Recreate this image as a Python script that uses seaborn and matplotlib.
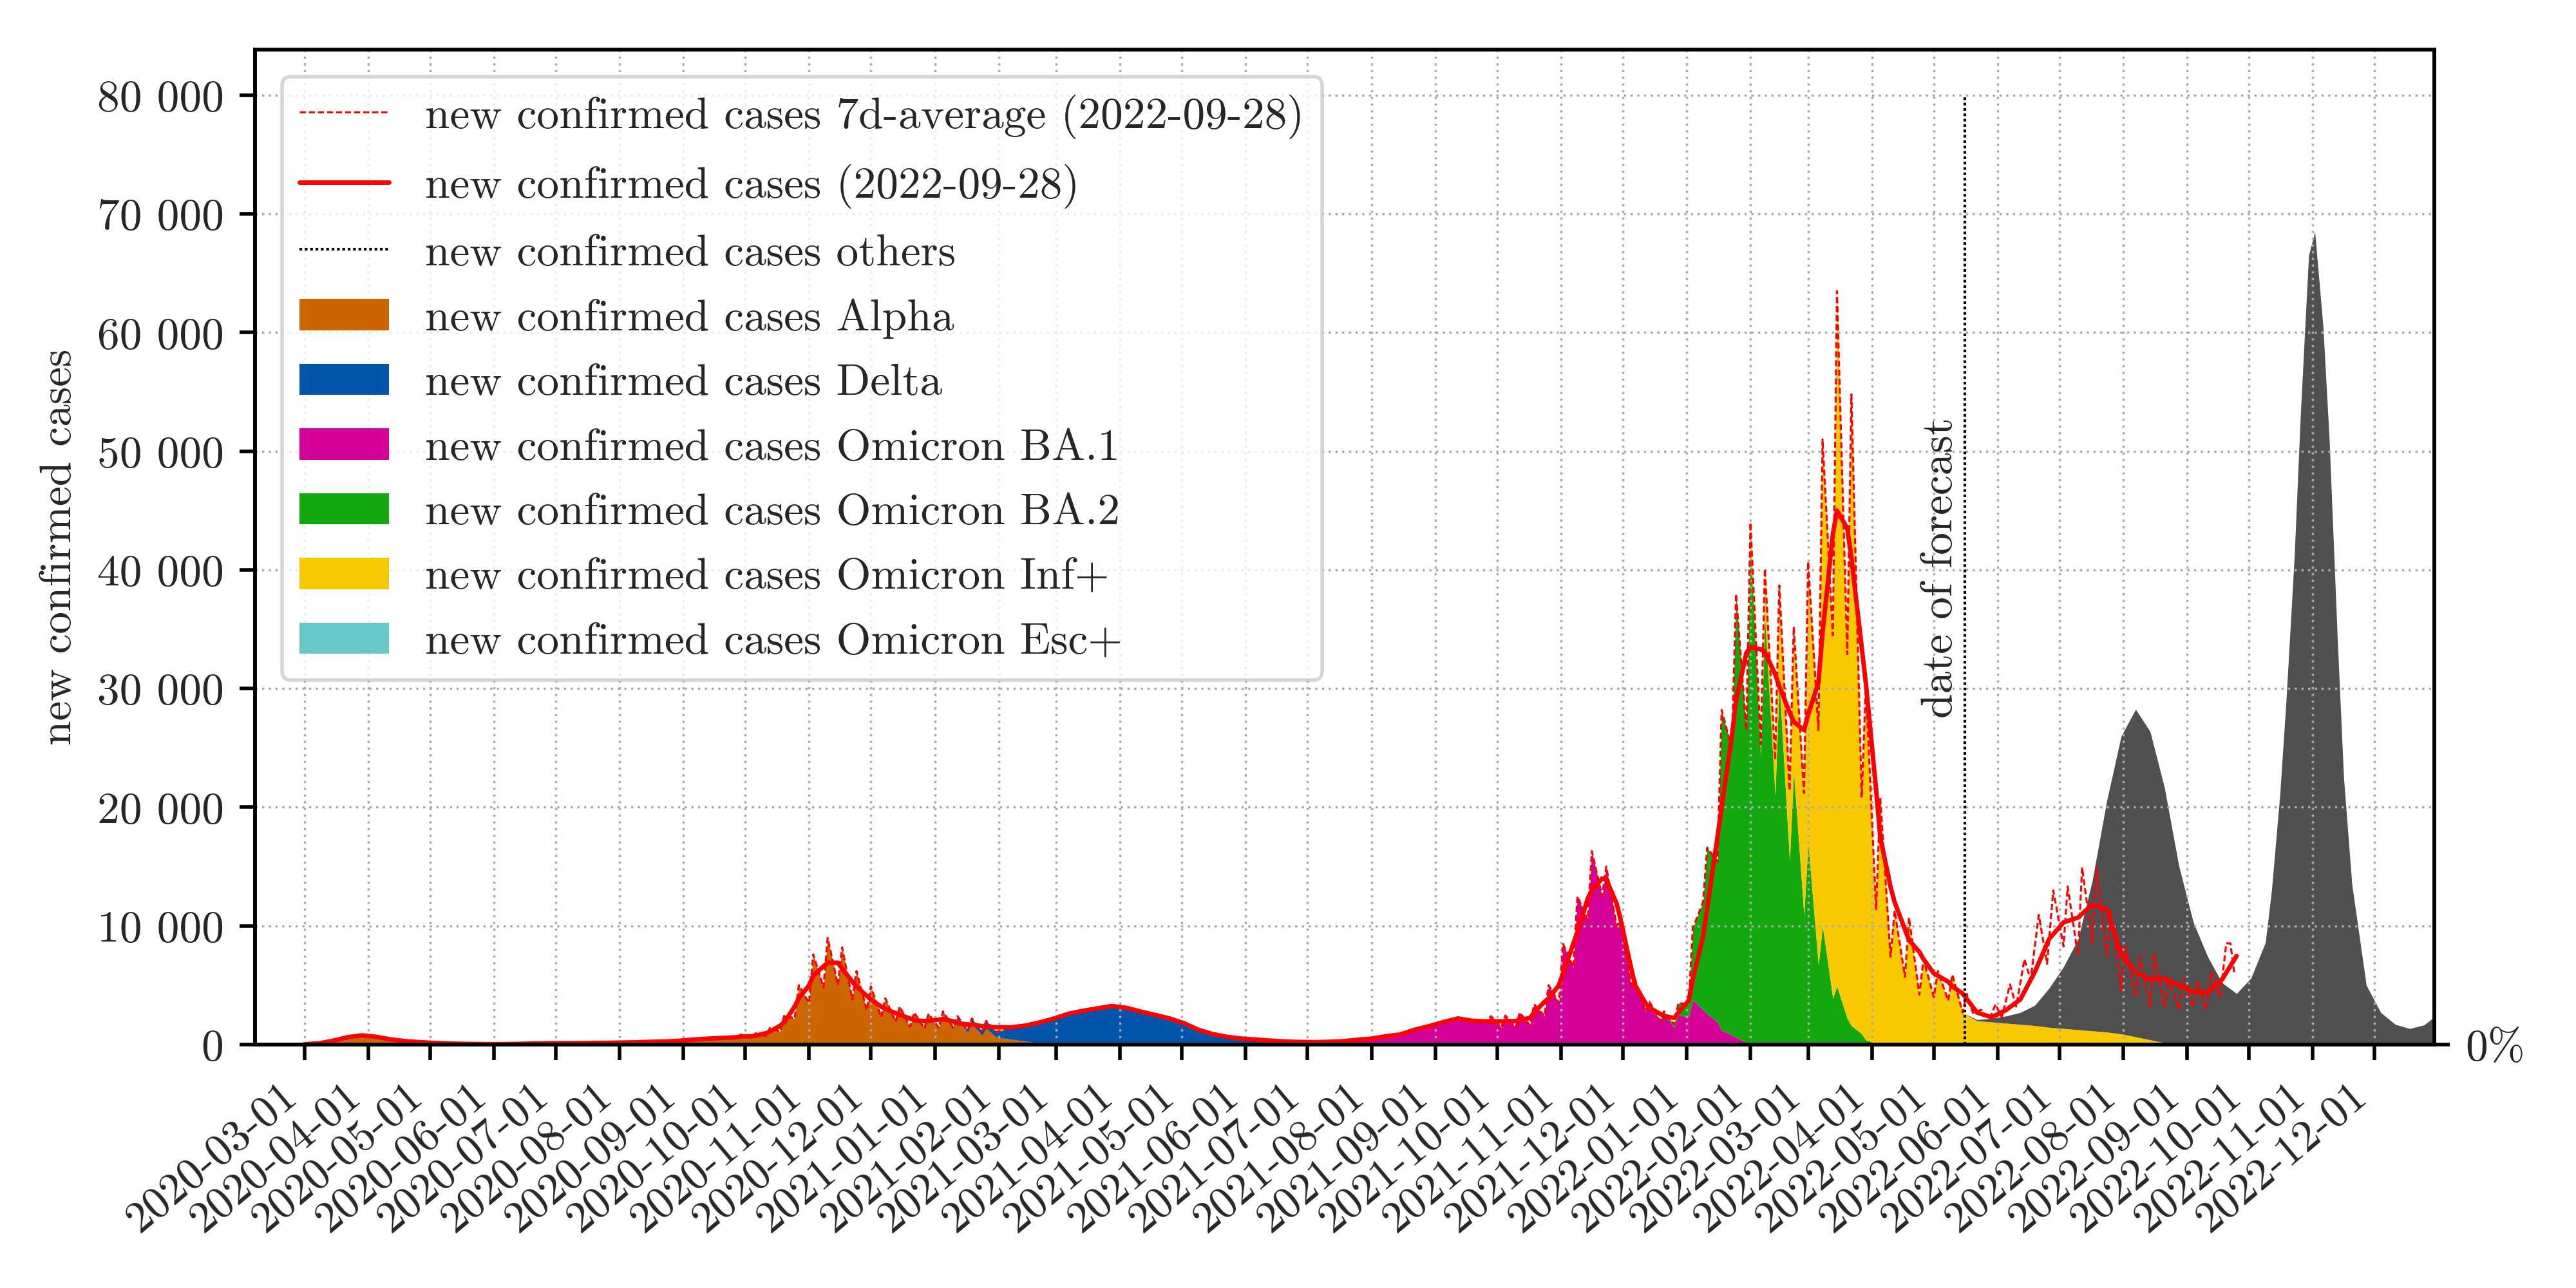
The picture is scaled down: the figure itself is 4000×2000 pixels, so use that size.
import numpy as np
import pandas as pd
import matplotlib
matplotlib.use("Agg")
import matplotlib.pyplot as plt
import matplotlib.dates as mdates
from matplotlib.ticker import FuncFormatter, MultipleLocator
import seaborn as sns

sns.set_theme(style="ticks")
plt.rcParams['font.family'] = ['cmr10', 'DejaVu Serif']
plt.rcParams['axes.formatter.use_mathtext'] = True
plt.rcParams['mathtext.fontset'] = 'cm'
plt.rcParams['axes.unicode_minus'] = False

# ---------------- date grid for the stacked areas ----------------
seg1 = pd.date_range('2020-03-01', '2020-09-27', freq='7D')
seg2 = pd.date_range('2020-09-29', '2021-01-26', freq='7D').union(
    pd.date_range('2020-10-04', '2021-01-31', freq='7D'))
seg3 = pd.date_range('2021-02-07', '2021-09-26', freq='7D')
seg4 = pd.date_range('2021-09-28', '2022-05-10', freq='7D').union(
    pd.date_range('2021-10-03', '2022-05-15', freq='7D'))
seg5 = pd.date_range('2022-05-22', '2023-01-01', freq='7D').union(
    pd.date_range('2022-10-12', '2022-11-16', freq='7D'))
grid = seg1.append([seg2, seg3, seg4, seg5])

forecast_date = '2022-05-16'
data_date = '2022-09-28'

# ---------------- variant values (new confirmed cases) ----------------
alpha_start = '2020-03-01'
alpha_vals = [20, 80, 350, 700, 800, 620, 420, 280, 190, 130, 90, 60, 40, 30, 40,
              60, 90, 110, 120, 120, 140, 150, 170, 190, 230, 260, 330, 420, 500, 560, 620,
              850, 550, 950, 700, 1400, 1100, 2500, 2200, 5000, 3500,
              7600, 4800, 9000, 5000, 8200, 3800, 6200, 2900, 4900, 2300,
              3900, 1900, 3200, 1500, 2700, 1350, 2540, 1340, 2650, 1280,
              2120, 1000, 1750, 770, 1350, 600,
              450, 280, 120, 40]

delta_start = '2020-12-29'
delta_vals = [60, 60, 150, 120, 280, 200, 450, 330, 650, 450,
              1000, 1270, 1750, 2160, 2600, 2850, 3050, 3250, 3100, 2750,
              2500, 2200, 1800, 1250, 880, 650, 500, 410, 310, 230,
              170, 120, 80, 50, 30, 20, 10]

ba1_start = '2021-06-20'
ba1_vals = [30, 50, 80, 150, 230, 370, 480, 690, 850, 1250, 1550, 1900, 2200, 2000, 1950,
            2400, 1450, 2450, 1450, 2700, 1600, 3400, 2400, 5000, 3500,
            8500, 6500, 12500, 10500, 16300, 12500, 15000, 10000, 10500, 5000,
            5500, 2800, 3600, 2000, 2600, 1450, 2500, 2300, 3800, 2900,
            2600, 1900, 1200, 800, 600, 200, 100]

ba2_start = '2021-12-21'
ba2_vals = [200, 250, 1000, 1100, 6000, 9100, 14000, 13500, 27000, 24100,
            37400, 26300, 41900, 24300, 36000, 21000, 30600, 15500, 23000, 10900,
            17000, 6700, 10000, 3900, 4900, 2200, 1600, 900, 400, 100]

inf_start = '2022-02-01'
inf_vals = [2000, 1000, 4100, 3000, 8100, 5900, 12200, 10300, 23700, 19800,
            41000, 30600, 58600, 30700, 53200, 19900, 29800, 11300, 20800, 7400,
            11300, 5700, 10700, 4200, 7200, 4000, 6200, 3700, 5900, 2700,
            2000, 1900, 1800, 1700, 1600, 1450, 1350, 1250, 1150, 1050,
            900, 650, 400, 150, 50]

esc_start = '2022-02-01'
esc_vals = [0, 0, 0, 0]

others_start = '2022-05-22'
others_vals = [100, 300, 600, 1000, 1700, 3300, 5200, 7600, 12700, 19500,
               25100, 27600, 26000, 21500, 15000, 10300, 7400, 5200, 4300, 5600, 8600,
               13000, 21000, 28800, 41000, 53000, 66500, 68500, 60500, 51000, 34000, 22500,
               13500, 5000, 2700, 1700, 1350, 1650, 2600]

# 7-day average (solid red), on the same grid up to 2022-09-25
avg_vals = [30, 100, 330, 620, 780, 650, 430, 290, 200, 140, 90, 60, 45, 35, 40,
            60, 90, 110, 120, 120, 140, 150, 170, 190, 230, 260, 320, 420, 500, 560, 620,
            680, 700, 750, 950, 1100, 1600, 1900, 3200, 3900, 5000,
            5800, 6600, 6900, 6900, 6400, 5300, 4900, 4100, 3800, 3200,
            3000, 2650, 2500, 2200, 2050, 1980, 2000, 2100, 2150, 1950,
            1800, 1700, 1680, 1550, 1500, 1460,
            1450, 1600, 1870, 2200, 2600, 2850, 3050, 3250, 3100, 2780,
            2500, 2200, 1800, 1250, 880, 650, 500, 420, 330, 260,
            220, 200, 230, 280, 400, 500, 700, 850, 1250, 1550,
            1900, 2200, 2000, 1950,
            1960, 1960, 1970, 1980, 2050, 2250, 2700, 3600, 3900, 5000,
            6000, 8500, 9500, 12300, 13000, 14000, 13900, 11900, 10500, 6500,
            5000, 3500, 3100, 2600, 2400, 2240, 2700, 3700, 5500, 9100,
            11500, 17500, 20000, 26000, 29000, 33000, 33500, 33300, 33100, 31200,
            30200, 28000, 27200, 26500, 27800, 30500, 34700, 43000, 45000, 43500,
            41000, 33500, 30500, 21500, 17500, 13300, 12000, 9700, 8800, 7800,
            7200, 6000, 5800, 5300, 4900, 4300,
            2700, 2300, 2900, 3800, 6100, 8900, 10300, 10700, 11800, 11400,
            7600, 6100, 5500, 5550, 5000, 4450, 4370, 5500, 7470]

# observed daily values after the forecast date (dashed red)
obs_dates = ['2022-05-17', '2022-05-20', '2022-05-24', '2022-05-28', '2022-05-31',
             '2022-06-03', '2022-06-07', '2022-06-10', '2022-06-14', '2022-06-17',
             '2022-06-21', '2022-06-25', '2022-06-28', '2022-07-03', '2022-07-05',
             '2022-07-10', '2022-07-12', '2022-07-17', '2022-07-19', '2022-07-24',
             '2022-07-26', '2022-07-31', '2022-08-02', '2022-08-07', '2022-08-09',
             '2022-08-14', '2022-08-16', '2022-08-21', '2022-08-23', '2022-08-28',
             '2022-08-30', '2022-09-04', '2022-09-06', '2022-09-10', '2022-09-13',
             '2022-09-17', '2022-09-20', '2022-09-22', '2022-09-24']
obs_vals = [4270, 2670, 2930, 2130, 3400, 2300, 5070, 3200, 7200, 5450,
            10930, 6800, 13000, 8270, 13330, 7470, 14930, 8530, 14930, 7470,
            11200, 4530, 8270, 4000, 7470, 3200, 7730, 3200, 5600, 2930,
            5600, 3200, 5330, 2930, 6130, 4000, 8530, 8530, 5870]

names = ['Alpha', 'Delta', 'Omicron BA.1', 'Omicron BA.2', 'Omicron Inf+', 'Omicron Esc+']
colors = ['#CC6600', '#0055AA', '#D4009A', '#12A80E', '#F8C800', '#66C8C8']
others_color = '#505050'


def place(start, values):
    arr = np.zeros(len(grid))
    i0 = grid.get_loc(pd.Timestamp(start))
    n = min(len(values), len(grid) - i0)
    arr[i0:i0 + n] = values[:n]
    return arr


layers = [place(alpha_start, alpha_vals), place(delta_start, delta_vals),
          place(ba1_start, ba1_vals), place(ba2_start, ba2_vals),
          place(inf_start, inf_vals), place(esc_start, esc_vals)]
others = place(others_start, others_vals)

# ---------------- figure ----------------
fig = plt.figure(figsize=(8, 4), dpi=500)
ax = fig.add_axes([0.099, 0.189, 0.846, 0.7725])

labels = ['new confirmed cases ' + n for n in names]
ax.stackplot(grid, *layers, others, colors=colors + [others_color],
             labels=labels + ['_nolegend_'], linewidth=0)

# dashed daily line: observed totals until the forecast date, then observations
total = np.sum(layers, axis=0) + others
pre_mask = grid <= pd.Timestamp('2022-05-15')
daily_df = pd.DataFrame({
    'date': list(grid[pre_mask]) + list(pd.to_datetime(obs_dates)),
    'value': list(total[pre_mask]) + obs_vals})
sns.lineplot(data=daily_df, x='date', y='value', ax=ax, color='red', lw=0.45,
             linestyle=(0, (3, 1.5)),
             label=f'new confirmed cases 7d-average ({data_date})')

avg_df = pd.DataFrame({'date': grid[:len(avg_vals)], 'value': avg_vals})
sns.lineplot(data=avg_df, x='date', y='value', ax=ax, color='red', lw=1.0,
             label=f'new confirmed cases ({data_date})')

fd = pd.Timestamp(forecast_date)
ax.vlines(fd, 0, 80000, colors='black', linestyles=(0, (1, 1)), lw=0.6,
          label='new confirmed cases others', zorder=3)
ax.text(fd - pd.Timedelta(days=2), 27500, 'date of forecast', rotation=90,
        ha='right', va='bottom', fontsize=10)

# axes formatting
ax.set_xlim(pd.Timestamp('2020-02-06'), pd.Timestamp('2022-12-30'))
ax.set_ylim(0, 83850)
ax.yaxis.set_major_locator(MultipleLocator(10000))
ax.yaxis.set_major_formatter(FuncFormatter(lambda v, p: f"{int(v):,}".replace(",", " ")))
ax.xaxis.set_major_locator(mdates.MonthLocator())
ax.xaxis.set_major_formatter(mdates.DateFormatter('%Y-%m-%d'))
plt.setp(ax.get_xticklabels(), rotation=40, ha='right', fontsize=10)
plt.setp(ax.get_yticklabels(), fontsize=10)
ax.set_xlabel('')
ax.set_ylabel('new confirmed cases', fontsize=10)
ax.tick_params(direction='out', length=3.5, width=0.8, color='black')
ax.grid(True, which='major', linestyle=(0, (1, 2)), color='#aaaaaa', linewidth=0.5)
ax.set_axisbelow('line')
for s in ax.spines.values():
    s.set_color('black')
    s.set_linewidth(0.8)

ax2 = ax.twinx()
ax2.set_ylim(0, 1)
ax2.set_yticks([0])
ax2.set_yticklabels(['0%'], fontsize=10)
ax2.tick_params(direction='out', length=3.5, width=0.8, color='black')
ax2.grid(False)
for s in ax2.spines.values():
    s.set_color('black')
    s.set_linewidth(0.8)

handles, labs = ax.get_legend_handles_labels()
order = [f'new confirmed cases 7d-average ({data_date})',
         f'new confirmed cases ({data_date})',
         'new confirmed cases others'] + labels
hmap = dict(zip(labs, handles))
leg = ax.legend([hmap[o] for o in order], order, loc='upper left', fontsize=10,
                frameon=True, fancybox=True, framealpha=0.8, edgecolor='#cccccc',
                labelspacing=0.56, borderaxespad=0.6)
leg.get_frame().set_linewidth(0.8)

fig.savefig('out.png', dpi=500)
